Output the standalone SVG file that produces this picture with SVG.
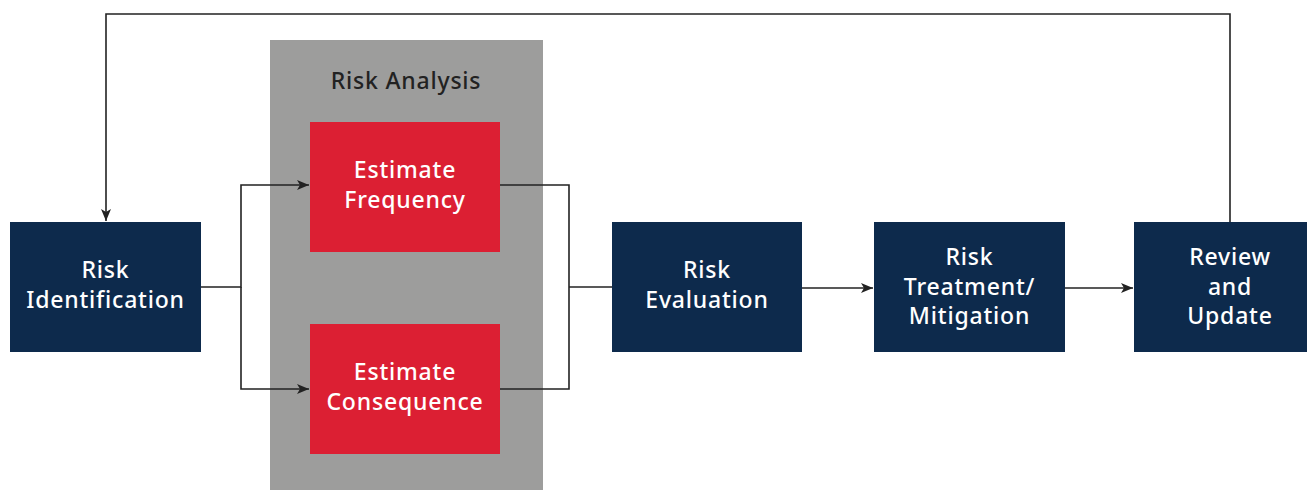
<svg xmlns="http://www.w3.org/2000/svg" width="1309" height="490" viewBox="0 0 1309 490">
<defs>
<style>
.navy{fill:#0d2a4c}
.red{fill:#dc1f33}
.lbl{font-family:"Noto Sans","Liberation Sans",sans-serif;font-size:23px;font-weight:500;fill:#ffffff;text-anchor:middle;letter-spacing:0.8px}
.ttl{font-family:"Noto Sans","Liberation Sans",sans-serif;font-size:23px;font-weight:500;fill:#222222;text-anchor:middle;letter-spacing:0.8px}
.ln{fill:none;stroke:#222222;stroke-width:1.6}
</style>
<marker id="ah" viewBox="0 0 12 10" refX="12" refY="5" markerWidth="12" markerHeight="10" markerUnits="userSpaceOnUse" orient="auto">
<path d="M0,0 L12,5 L0,10 L3,5 Z" fill="#222222"/>
</marker>
</defs>
<rect width="1309" height="490" fill="#ffffff"/>
<g id="risk-analysis">
<rect x="270" y="40" width="273" height="450" fill="#9d9d9c"/>
<text class="ttl" x="406" y="89">Risk Analysis</text>
</g>
<g id="connectors">
<path class="ln" d="M201,287 H241 V185 H309" marker-end="url(#ah)"/>
<path class="ln" d="M241,287 V389 H309" marker-end="url(#ah)"/>
<path class="ln" d="M500,185 H569 V389 H500"/>
<path class="ln" d="M569,287 H612"/>
<path class="ln" d="M802,288 H873" marker-end="url(#ah)"/>
<path class="ln" d="M1065,288 H1133" marker-end="url(#ah)"/>
<path class="ln" d="M1230,222 V14 H106 V221" marker-end="url(#ah)"/>
</g>
<g id="risk-identification">
<rect class="navy" x="10" y="222" width="191" height="130"/>
<text class="lbl" x="105.5" y="278">Risk</text>
<text class="lbl" x="105.5" y="308">Identification</text>
</g>
<g id="estimate-frequency">
<rect class="red" x="310" y="122" width="190" height="130"/>
<text class="lbl" x="405" y="178">Estimate</text>
<text class="lbl" x="405" y="208">Frequency</text>
</g>
<g id="estimate-consequence">
<rect class="red" x="310" y="324" width="190" height="130"/>
<text class="lbl" x="405" y="380">Estimate</text>
<text class="lbl" x="405" y="410">Consequence</text>
</g>
<g id="risk-evaluation">
<rect class="navy" x="612" y="222" width="190" height="130"/>
<text class="lbl" x="707" y="278">Risk</text>
<text class="lbl" x="707" y="308">Evaluation</text>
</g>
<g id="risk-treatment">
<rect class="navy" x="874" y="222" width="191" height="130"/>
<text class="lbl" x="969.5" y="265">Risk</text>
<text class="lbl" x="969.5" y="295">Treatment/</text>
<text class="lbl" x="969.5" y="324">Mitigation</text>
</g>
<g id="review-update">
<rect class="navy" x="1134" y="222" width="173" height="130"/>
<text class="lbl" x="1230" y="265">Review</text>
<text class="lbl" x="1230" y="295">and</text>
<text class="lbl" x="1230" y="324">Update</text>
</g>
</svg>
